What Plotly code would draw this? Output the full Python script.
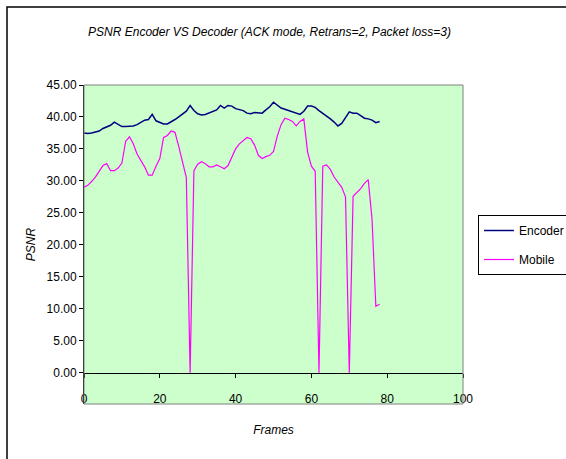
import plotly.graph_objects as go

frames = list(range(0, 79))

encoder = [37.5, 37.4, 37.5, 37.6, 37.8, 38.2, 38.4, 38.7, 39.2, 38.9,
           38.5, 38.5, 38.5, 38.6, 38.8, 39.1, 39.5, 39.6, 40.4, 39.4,
           39.1, 38.9, 38.9, 39.2, 39.6, 40.0, 40.4, 40.9, 41.8, 41.0,
           40.5, 40.3, 40.4, 40.6, 40.8, 41.1, 41.8, 41.4, 41.8, 41.7,
           41.3, 41.1, 41.0, 40.6, 40.5, 40.7, 40.6, 40.6, 41.1, 41.6,
           42.3, 41.8, 41.4, 41.2, 41.0, 40.7, 40.6, 40.4, 40.9, 41.7,
           41.7, 41.5, 41.0, 40.6, 40.2, 39.7, 39.2, 38.6, 39.0, 40.0,
           40.8, 40.6, 40.6, 40.2, 39.8, 39.7, 39.5, 39.1, 39.3]

mobile = [29.0, 29.3, 29.9, 30.6, 31.5, 32.4, 32.7, 31.6, 31.6, 32.0,
          32.8, 36.2, 36.9, 35.8, 34.2, 33.2, 32.2, 30.9, 30.9, 32.3,
          33.5, 36.8, 37.1, 37.8, 37.6, 35.4, 33.0, 30.5, 0.0, 31.6,
          32.6, 33.0, 32.7, 32.2, 32.2, 32.5, 32.2, 31.9, 32.4, 33.8,
          35.0, 35.8, 36.3, 36.8, 36.6, 35.6, 34.0, 33.5, 33.8, 34.0,
          34.6, 37.0, 38.8, 39.8, 39.6, 39.3, 38.6, 39.3, 39.7, 34.5,
          32.3, 31.5, 0.0, 32.3, 32.5, 31.8, 30.6, 29.8, 29.0, 27.5,
          0.0, 27.6, 28.2, 28.8, 29.6, 30.2, 24.0, 10.4, 10.7]

y_ticks = [0, 5, 10, 15, 20, 25, 30, 35, 40, 45]
x_ticks = [0, 20, 40, 60, 80, 100]

title_text = "PSNR Encoder VS Decoder (ACK mode, Retrans=2, Packet loss=3)"
FONT = "Liberation Sans, Arial, sans-serif"

W, H = 566, 459
L, R, T, B = 84, 463, 85, 404
pw, ph = R - L, B - T

fig = go.Figure()
fig.add_trace(go.Scatter(x=frames, y=encoder, mode="lines", name="Encoder",
                         line=dict(color="#000080", width=1.5), legendgroup="a"))
fig.add_trace(go.Scatter(x=frames, y=mobile, mode="lines", name="Mobile",
                         line=dict(color="#FF00FF", width=1.2), legendgroup="b"))

ymin = -4.9
zero_pos = (0 - ymin) / (45 - ymin)

def px(xp):
    return (xp - L) / pw

def py(yp):
    return (B - yp) / ph

fig.update_layout(
    width=W, height=H,
    margin=dict(l=L, r=W - R, t=T, b=H - B, autoexpand=False),
    paper_bgcolor="white",
    plot_bgcolor="#CCFFCC",
    font=dict(family=FONT, size=12, color="black"),
    title=dict(text=title_text, font=dict(family=FONT, size=12, style="italic"),
               xref="container", yref="container", x=269.5 / W, y=1 - 32 / H,
               xanchor="center", yanchor="middle"),
    showlegend=True,
    legend=dict(x=px(478), y=py(215), xanchor="left", yanchor="top",
                bgcolor="white", bordercolor="black", borderwidth=1,
                font=dict(family=FONT, size=12), tracegroupgap=10,
                itemwidth=30),
    xaxis=dict(range=[0, 100], tickvals=x_ticks, ticks="outside", ticklen=4,
               tickcolor="black", showline=True, linecolor="black", linewidth=1,
               showgrid=False, zeroline=False, anchor="free", position=zero_pos,
               ticklabelstandoff=11,
               title=dict(text="Frames", font=dict(family=FONT, size=12, style="italic"),
                          standoff=20)),
    yaxis=dict(range=[ymin, 45], tickvals=y_ticks, tickformat=".2f", ticks="outside",
               ticklen=4, tickcolor="black", showline=True, linecolor="black",
               linewidth=1, showgrid=False, zeroline=False,
               title=dict(text="PSNR", font=dict(family=FONT, size=12, style="italic"),
                          standoff=8)),
    shapes=[
        dict(type="rect", xref="paper", yref="paper", x0=0, x1=1, y0=0, y1=1,
             line=dict(color="#808080", width=1), layer="above"),
        dict(type="rect", xref="paper", yref="paper", x0=px(7), x1=px(580),
             y0=py(475), y1=py(7), line=dict(color="black", width=1.5)),
    ],
)

fig.write_html("out.html")
